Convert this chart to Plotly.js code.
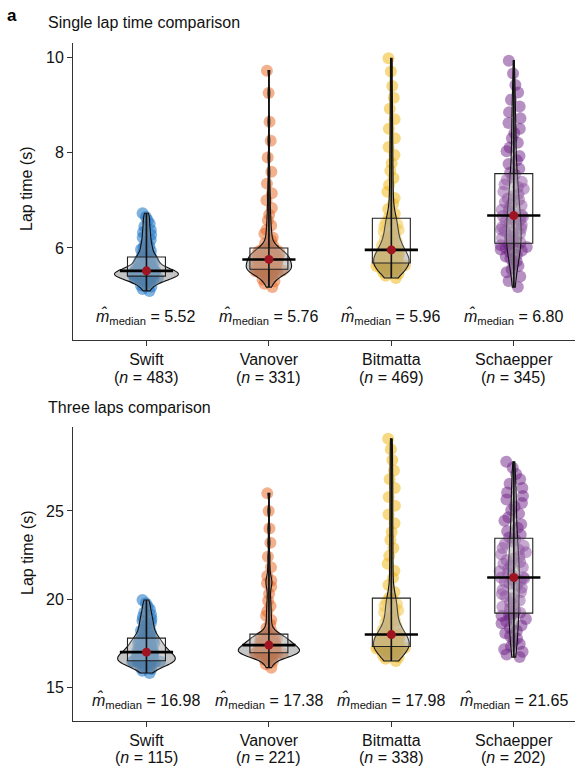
<!DOCTYPE html>
<html><head><meta charset="utf-8">
<script src="https://cdn.plot.ly/plotly-3.0.1.min.js"></script>
<style>html,body{margin:0;padding:0;background:#fff}#chart{width:575px;height:767px}</style>
</head><body><div id="chart"></div>
<script>
// ---------------- data ----------------
const riders = ['Swift', 'Vanover', 'Bitmatta', 'Schaepper'];
const singleN = [483, 331, 469, 345];
const threeN = [115, 221, 338, 202];
const singleMedianLabel = ['5.52', '5.76', '5.96', '6.80'];
const threeMedianLabel = ['16.98', '17.38', '17.98', '21.65'];

const singleSwift = [5.10,5.14,5.19,5.22,5.24,5.27,5.29,5.30,5.32,5.33,5.34,5.35,5.36,5.36,5.37,5.38,5.39,5.39,5.40,5.41,
5.41,5.42,5.42,5.43,5.44,5.44,5.45,5.45,5.46,5.46,5.47,5.47,5.48,5.48,5.49,5.50,5.50,5.51,5.51,5.52,
5.52,5.53,5.54,5.55,5.56,5.57,5.59,5.60,5.61,5.63,5.64,5.66,5.68,5.69,5.71,5.73,5.75,5.77,5.79,5.80,
5.82,5.84,5.87,5.90,5.94,5.97,6.01,6.04,6.08,6.13,6.17,6.22,6.28,6.33,6.38,6.45,6.51,6.58,6.65,6.73];
const singleVanover = [5.18,5.25,5.30,5.34,5.37,5.40,5.42,5.44,5.45,5.47,5.48,5.49,5.50,5.51,5.52,5.53,5.53,5.54,5.55,5.55,
5.56,5.57,5.58,5.59,5.60,5.61,5.62,5.63,5.64,5.65,5.66,5.67,5.68,5.69,5.70,5.71,5.72,5.73,5.74,5.75,
5.77,5.78,5.79,5.80,5.80,5.81,5.82,5.83,5.84,5.85,5.86,5.88,5.89,5.90,5.92,5.93,5.95,5.96,5.98,5.99,
6.01,6.05,6.10,6.16,6.22,6.30,6.38,6.47,6.58,6.70,6.84,7.00,7.15,7.35,7.60,7.90,8.25,8.65,9.25,9.72];
const singleBitmatta = [5.37,5.42,5.46,5.49,5.51,5.53,5.55,5.56,5.57,5.58,5.59,5.60,5.61,5.62,5.63,5.64,5.65,5.66,5.67,5.68,
5.69,5.70,5.72,5.73,5.74,5.76,5.77,5.78,5.80,5.81,5.83,5.84,5.86,5.87,5.88,5.90,5.91,5.93,5.94,5.95,
5.97,5.99,6.02,6.05,6.08,6.11,6.14,6.17,6.20,6.23,6.27,6.30,6.34,6.38,6.42,6.46,6.50,6.54,6.58,6.61,
6.64,6.72,6.82,6.93,7.05,7.18,7.32,7.47,7.62,7.78,7.95,8.12,8.30,8.50,8.70,8.92,9.15,9.40,9.70,9.98];
const singleSchaepper = [5.18,5.31,5.40,5.49,5.55,5.62,5.67,5.72,5.78,5.82,5.86,5.91,5.94,5.97,6.00,6.02,6.04,6.06,6.08,6.09,
6.11,6.14,6.17,6.21,6.23,6.26,6.30,6.32,6.35,6.39,6.41,6.44,6.48,6.50,6.53,6.57,6.59,6.62,6.65,6.67,
6.69,6.72,6.77,6.80,6.84,6.89,6.92,6.96,7.01,7.04,7.09,7.13,7.18,7.24,7.28,7.33,7.39,7.43,7.48,7.54,
7.58,7.66,7.76,7.84,7.93,8.03,8.11,8.21,8.30,8.41,8.50,8.62,8.72,8.85,8.97,9.11,9.26,9.42,9.66,9.93];

const threeSwift = [15.80,15.92,16.02,16.10,16.16,16.21,16.26,16.30,16.33,16.36,16.38,16.40,16.42,16.43,16.44,16.45,16.46,16.47,16.47,16.48,
16.50,16.52,16.55,16.58,16.61,16.63,16.66,16.68,16.71,16.73,16.76,16.78,16.81,16.83,16.86,16.88,16.91,16.93,16.95,16.97,
16.99,17.02,17.06,17.10,17.14,17.18,17.22,17.26,17.30,17.34,17.38,17.42,17.46,17.50,17.54,17.58,17.62,17.67,17.72,17.76,
17.79,17.86,17.94,18.02,18.10,18.19,18.28,18.37,18.46,18.56,18.66,18.76,18.87,18.98,19.10,19.24,19.40,19.58,19.76,19.94];
const threeVanover = [16.10,16.30,16.45,16.55,16.63,16.69,16.74,16.78,16.81,16.84,16.86,16.88,16.89,16.90,16.91,16.92,16.92,16.93,16.93,16.94,
16.95,16.97,17.00,17.03,17.06,17.08,17.10,17.12,17.14,17.16,17.18,17.20,17.22,17.24,17.26,17.28,17.30,17.32,17.34,17.37,
17.39,17.41,17.44,17.47,17.50,17.53,17.56,17.59,17.62,17.65,17.68,17.71,17.74,17.77,17.80,17.84,17.88,17.92,17.96,17.99,
18.02,18.15,18.35,18.55,18.80,19.05,19.30,19.60,19.90,20.30,20.70,20.90,21.05,21.30,21.80,22.40,23.20,24.00,25.00,26.00];
const threeBitmatta = [16.48,16.60,16.70,16.78,16.85,16.90,16.95,17.00,17.04,17.08,17.11,17.14,17.17,17.19,17.21,17.23,17.25,17.27,17.28,17.29,
17.31,17.34,17.38,17.42,17.46,17.50,17.54,17.58,17.62,17.66,17.70,17.74,17.78,17.81,17.84,17.87,17.90,17.93,17.95,17.97,
17.99,18.07,18.16,18.25,18.35,18.45,18.55,18.66,18.77,18.88,19.00,19.12,19.24,19.36,19.48,19.60,19.72,19.84,19.95,20.03,
20.07,20.40,20.80,21.20,21.60,22.00,22.45,22.90,23.35,23.80,24.30,24.80,25.30,25.80,26.30,26.80,27.30,27.90,28.50,29.10];
const threeSchaepper = [16.70,16.85,17.00,17.15,17.30,17.45,17.60,17.75,17.90,18.05,18.20,18.35,18.50,18.62,18.74,18.86,18.96,19.05,19.12,19.18,
19.22,19.32,19.44,19.56,19.68,19.80,19.92,20.04,20.16,20.28,20.40,20.52,20.64,20.76,20.86,20.96,21.04,21.10,21.16,21.20,
21.24,21.34,21.46,21.58,21.70,21.80,21.90,22.00,22.10,22.20,22.30,22.42,22.54,22.66,22.78,22.90,23.02,23.14,23.26,23.40,
23.50,23.65,23.85,24.05,24.25,24.45,24.65,24.85,25.05,25.25,25.45,25.65,25.85,26.05,26.30,26.55,26.80,27.10,27.45,27.80];

const singleData = [singleSwift, singleVanover, singleBitmatta, singleSchaepper];
const threeData = [threeSwift, threeVanover, threeBitmatta, threeSchaepper];

// ---------------- style ----------------
const FONT = 'Liberation Sans, Arial, Helvetica, sans-serif';
const pointColors = ['rgba(24,114,196,0.55)', 'rgba(232,98,28,0.5)', 'rgba(240,184,30,0.55)', 'rgba(112,34,136,0.5)'];
const singleBandwidth = [0.08, 0.10, 0.18, 0.30];
const threeBandwidth = [0.30, 0.25, 0.55, 0.85];
const singleViolinWidth = [0.52, 0.37, 0.29, 0.12];
const threeViolinWidth = [0.47, 0.50, 0.29, 0.09];

function median(a) {
  const s = [...a].sort((p, q) => p - q);
  const m = s.length / 2;
  return s.length % 2 ? s[Math.floor(m)] : (s[m - 1] + s[m]) / 2;
}

const traces = [];
const panels = [
  {data: singleData, xa: 'x', ya: 'y', group: 'top', bw: singleBandwidth, vw: singleViolinWidth},
  {data: threeData, xa: 'x2', ya: 'y2', group: 'bot', bw: threeBandwidth, vw: threeViolinWidth}
];

panels.forEach(p => {
  // jittered points
  p.data.forEach((vals, i) => {
    traces.push({
      type: 'violin', x0: i, y: vals, xaxis: p.xa, yaxis: p.ya,
      points: 'all', jitter: 0.5, pointpos: 0, width: 0.5,
      scalegroup: p.group + 'pts' + i, spanmode: 'hard',
      line: {width: 0, color: 'rgba(0,0,0,0)'}, fillcolor: 'rgba(0,0,0,0)',
      marker: {size: 12, color: pointColors[i], line: {width: 0}},
      hoverinfo: 'skip', showlegend: false
    });
  });
  // violin outlines
  p.data.forEach((vals, i) => {
    traces.push({
      type: 'violin', x0: i, y: vals, xaxis: p.xa, yaxis: p.ya,
      points: false, width: p.vw[i], scalegroup: p.group + 'v' + i, scalemode: 'width',
      spanmode: 'hard', bandwidth: p.bw[i],
      line: {width: 1.1, color: '#111'}, fillcolor: 'rgba(140,140,140,0.5)',
      box: {visible: false}, meanline: {visible: false},
      hoverinfo: 'skip', showlegend: false
    });
  });
  // boxes
  p.data.forEach((vals, i) => {
    traces.push({
      type: 'box', x0: i, y: vals, xaxis: p.xa, yaxis: p.ya,
      boxpoints: false, width: 0.31, whiskerwidth: 0,
      line: {width: 1.1, color: '#222'}, fillcolor: 'rgba(255,255,255,0.22)',
      hoverinfo: 'skip', showlegend: false
    });
  });
  // min-max line
  const lx = [], ly = [];
  p.data.forEach((vals, i) => {
    lx.push(i, i, null);
    ly.push(Math.min(...vals), Math.max(...vals), null);
  });
  traces.push({type: 'scatter', mode: 'lines', x: lx, y: ly, xaxis: p.xa, yaxis: p.ya,
    line: {color: '#111', width: 1.6}, hoverinfo: 'skip', showlegend: false});
  const meds = p.data.map(median);
  const idx = p.data.map((v, i) => i);
  traces.push({type: 'scatter', mode: 'markers', x: idx, y: meds, xaxis: p.xa, yaxis: p.ya,
    marker: {symbol: 'line-ew', size: 38, line: {width: 2.6, color: '#000'}},
    hoverinfo: 'skip', showlegend: false});
  traces.push({type: 'scatter', mode: 'markers', x: idx, y: meds, xaxis: p.xa, yaxis: p.ya,
    marker: {symbol: 'circle', size: 9, color: '#9e1420'},
    hoverinfo: 'skip', showlegend: false});
});

const H = 767, W = 575, L = 73;
const py = v => 1 - v / H;
const px = v => (v - L) / (W - L);

const axisCommon = {
  showline: true, linecolor: '#333', linewidth: 1, ticks: 'outside', ticklen: 5,
  tickcolor: '#333', tickwidth: 1, showgrid: false, zeroline: false,
  tickfont: {family: FONT, size: 16, color: '#111'}, fixedrange: true
};

const annotations = [];
const ann = (o) => annotations.push(Object.assign({showarrow: false, font: {family: FONT, size: 16, color: '#111'}}, o));

ann({text: '<b>a</b>', xref: 'paper', yref: 'paper', x: px(12), y: py(16), xanchor: 'center', yanchor: 'middle', font: {family: FONT, size: 17, color: '#000'}});
ann({text: 'Single lap time comparison', xref: 'paper', yref: 'paper', x: px(46), y: py(22), xanchor: 'left', yanchor: 'middle'});
ann({text: 'Three laps comparison', xref: 'paper', yref: 'paper', x: px(46), y: py(407), xanchor: 'left', yanchor: 'middle'});
ann({text: 'Lap time (s)', xref: 'paper', yref: 'paper', x: px(27), y: py(189), textangle: -90, xanchor: 'center', yanchor: 'middle'});
ann({text: 'Lap time (s)', xref: 'paper', yref: 'paper', x: px(27), y: py(553), textangle: -90, xanchor: 'center', yanchor: 'middle'});

riders.forEach((r, i) => {
  ann({text: `<i>m\u0302</i><sub>median</sub> = ${singleMedianLabel[i]}`, xref: 'x', yref: 'y', x: i, y: 4.56, xanchor: 'center', yanchor: 'middle'});
  ann({text: `<i>m\u0302</i><sub>median</sub> = ${threeMedianLabel[i]}`, xref: 'x2', yref: 'y2', x: i, y: 14.26, xanchor: 'center', yanchor: 'middle'});
  ann({text: `(<i>n</i> = ${singleN[i]})`, xref: 'x', yref: 'paper', x: i, y: py(377), xanchor: 'center', yanchor: 'middle'});
  ann({text: `(<i>n</i> = ${threeN[i]})`, xref: 'x2', yref: 'paper', x: i, y: py(757), xanchor: 'center', yanchor: 'middle'});
});

const layout = {
  width: W, height: H, margin: {l: L, r: 0, t: 0, b: 0},
  paper_bgcolor: '#fff', plot_bgcolor: 'rgba(0,0,0,0)',
  showlegend: false, violinmode: 'overlay', boxmode: 'overlay',
  font: {family: FONT, size: 16, color: '#111'},
  xaxis: Object.assign({}, axisCommon, {type: 'linear', anchor: 'y', domain: [0, 1], range: [-0.6, 3.5],
    tickmode: 'array', tickvals: [0, 1, 2, 3], ticktext: riders}),
  yaxis: Object.assign({}, axisCommon, {type: 'linear', anchor: 'x', domain: [py(340), py(43)], range: [4.07, 10.3],
    tickmode: 'array', tickvals: [6, 8, 10]}),
  xaxis2: Object.assign({}, axisCommon, {type: 'linear', anchor: 'y2', domain: [0, 1], range: [-0.6, 3.5],
    tickmode: 'array', tickvals: [0, 1, 2, 3], ticktext: riders}),
  yaxis2: Object.assign({}, axisCommon, {type: 'linear', anchor: 'x2', domain: [py(721), py(427)], range: [13.07, 29.77],
    tickmode: 'array', tickvals: [15, 20, 25]}),
  annotations: annotations
};

Plotly.newPlot('chart', traces, layout, {displayModeBar: false, staticPlot: true});
</script>
</body></html>
